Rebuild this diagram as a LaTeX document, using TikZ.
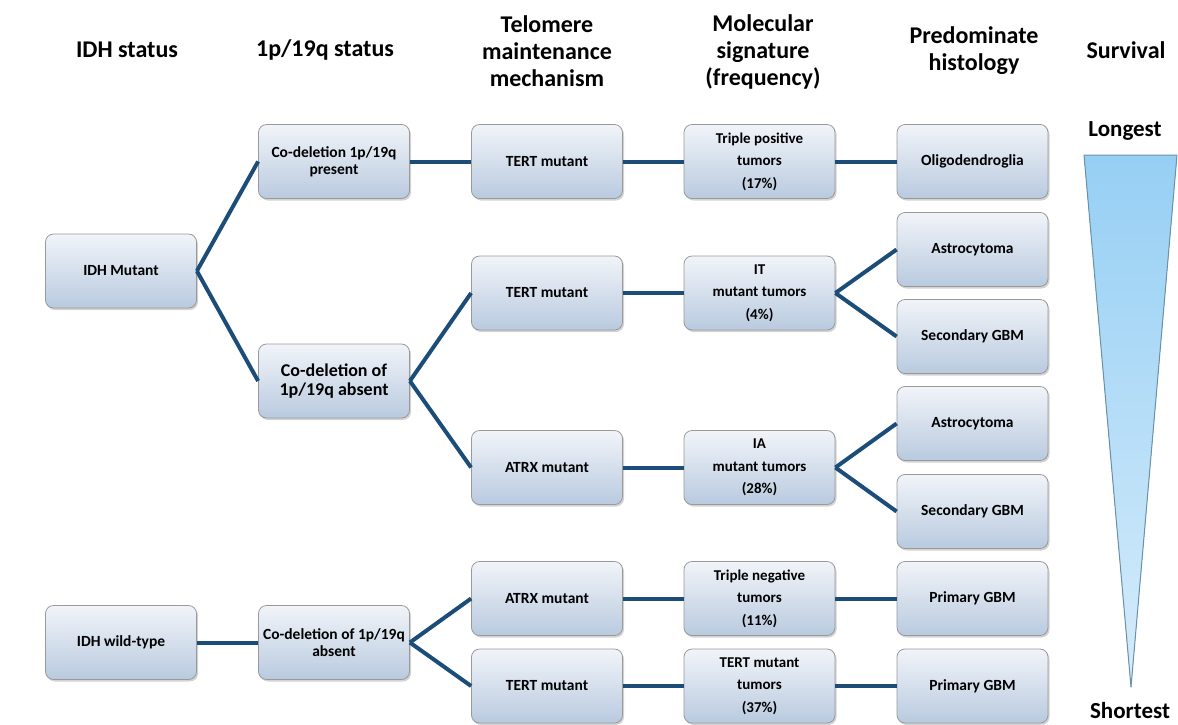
\documentclass[tikz,border=0pt]{standalone}
\usepackage{fontspec}
\setmainfont{Carlito}
\usepackage{tikz}
\usetikzlibrary{shadows}

\definecolor{linkblue}{HTML}{1B4D78}
\definecolor{boxtop}{HTML}{F1F4F9}
\definecolor{boxbot}{HTML}{B9CADF}
\definecolor{survtop}{HTML}{96CFF4}
\definecolor{survbot}{HTML}{D6ECFB}

\begin{document}
\begin{tikzpicture}[x=1pt,y=-1pt]
        \tikzstyle{every node}=[font=\bfseries]
        \tikzstyle{head}=[align=center,font=\bfseries\fontsize{24}{27}\selectfont]
        \tikzstyle{box}=[rectangle,rounded corners=8pt,draw=gray!80,line width=0.8pt,
            top color=boxtop,bottom color=boxbot,minimum width=151pt,minimum height=74pt,
            align=center,font=\bfseries\fontsize{15.5}{17}\selectfont,
            drop shadow={shadow xshift=1.5pt,shadow yshift=-2pt,opacity=0.35}]
        \tikzstyle{sig}=[box,font=\bfseries\fontsize{15}{22.5}\selectfont]
        \tikzstyle{link}=[draw=linkblue,line width=4pt]
        \useasboundingbox (0,0) rectangle (1178,724);

        %%% Headers
        \node[head] (h1) at (127,50) {IDH status};
        \node[head] (h2) at (325,50) {1p/19q status};
        \node[head] (h3) at (547,51) {Telomere\\maintenance\\mechanism};
        \node[head] (h4) at (763,52) {Molecular\\signature\\(frequency)};
        \node[head] (h5) at (974,51) {Predominate\\histology};
        \node[head] (h6) at (1126,50) {Survival};

        %%% IDH status
        \node[box] (idhmut) at (121,271) {IDH Mutant};
        \node[box] (idhwt) at (121,642.5) {IDH wild-type};

        %%% 1p/19q status
        \node[box] (codelp) at (334,161.5) {Co-deletion 1p/19q\\present};
        \node[box,font=\bfseries\fontsize{18}{19.5}\selectfont] (codela) at (334,381) {Co-deletion of\\1p/19q absent};
        \node[box] (codelb) at (334,642.5) {Co-deletion of 1p/19q\\absent};

        %%% Telomere
        \node[box] (tert1) at (547,161.5) {TERT mutant};
        \node[box] (tert2) at (547,293) {TERT mutant};
        \node[box] (atrx1) at (547,467.5) {ATRX mutant};
        \node[box] (atrx2) at (547,598.5) {ATRX mutant};
        \node[box] (tert3) at (547,686) {TERT mutant};

        %%% Molecular signature
        \node[sig] (tp) at (759.5,161.5) {Triple positive\\tumors\\(17\%)};
        \node[sig] (it) at (759.5,293) {IT\\mutant tumors\\(4\%)};
        \node[sig] (ia) at (759.5,467.5) {IA\\mutant tumors\\(28\%)};
        \node[sig] (tn) at (759.5,598.5) {Triple negative\\tumors\\(11\%)};
        \node[sig] (tmt) at (759.5,686) {TERT mutant\\tumors\\(37\%)};

        %%% Histology
        \node[box] (olig) at (972.5,161.5) {Oligodendroglia};
        \node[box] (astro1) at (972.5,249.5) {Astrocytoma};
        \node[box] (sgbm1) at (972.5,336.5) {Secondary GBM};
        \node[box] (astro2) at (972.5,423.5) {Astrocytoma};
        \node[box] (sgbm2) at (972.5,511.5) {Secondary GBM};
        \node[box] (pgbm1) at (972.5,598.5) {Primary GBM};
        \node[box] (pgbm2) at (972.5,686) {Primary GBM};

        %%% Survival wedge
        \coordinate (wl) at (1084,155);
        \coordinate (wr) at (1177,155);
        \coordinate (wtip) at (1131,687);
        \fill[top color=survtop,bottom color=survbot] (wl) -- (wr) -- (wtip) -- cycle;
        \draw[draw=survtop!70!black,line width=1pt,line join=round] (wl) -- (wr) -- (wtip) -- cycle;
        \node[head,font=\bfseries\fontsize{23}{27}\selectfont] (longest) at (1125,131) {Longest};
        \node[head,font=\bfseries\fontsize{23}{27}\selectfont] (shortest) at (1130,711) {Shortest};

        %%% Links
        \draw[link] (idhmut.east) edge (codelp.west);
        \draw[link] (idhmut.east) edge (codela.west);
        \draw[link] (codelp.east) edge (tert1.west);
        \draw[link] (codela.east) edge (tert2.west);
        \draw[link] (codela.east) edge (atrx1.west);
        \draw[link] (tert1.east) edge (tp.west);
        \draw[link] (tert2.east) edge (it.west);
        \draw[link] (atrx1.east) edge (ia.west);
        \draw[link] (tp.east) edge (olig.west);
        \draw[link] (it.east) edge (astro1.west);
        \draw[link] (it.east) edge (sgbm1.west);
        \draw[link] (ia.east) edge (astro2.west);
        \draw[link] (ia.east) edge (sgbm2.west);
        \draw[link] (idhwt.east) edge (codelb.west);
        \draw[link] (codelb.east) edge (atrx2.west);
        \draw[link] (codelb.east) edge (tert3.west);
        \draw[link] (atrx2.east) edge (tn.west);
        \draw[link] (tert3.east) edge (tmt.west);
        \draw[link] (tn.east) edge (pgbm1.west);
        \draw[link] (tmt.east) edge (pgbm2.west);
\end{tikzpicture}
\end{document}
